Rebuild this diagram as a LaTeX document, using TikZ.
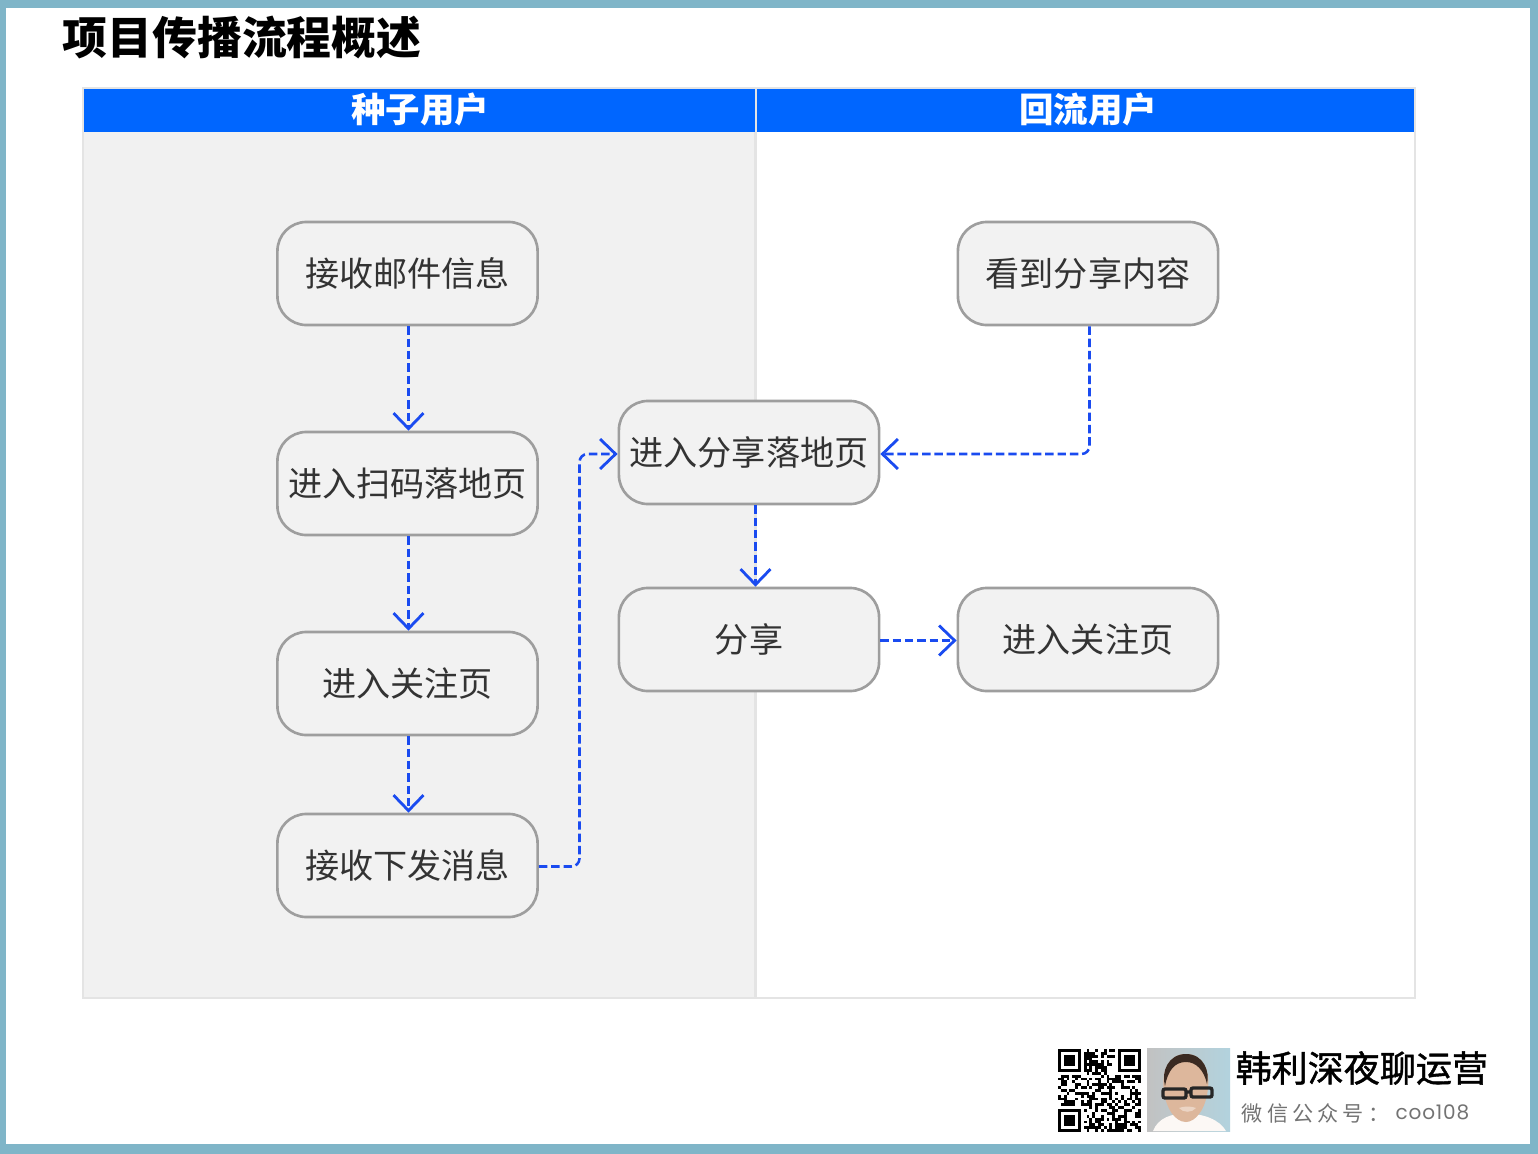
\documentclass[tikz,border=0pt]{standalone}
\usepackage{fontspec}
\setmainfont{Noto Sans CJK SC}
\newfontfamily\subfont[LetterSpace=20]{Noto Sans CJK SC}
\newfontfamily\brandfont[FakeBold=1.2]{Noto Sans CJK SC}
\newfontfamily\latinfont[LetterSpace=4]{Poppins}
\usepackage{tikz}
\usetikzlibrary{arrows.meta}
\definecolor{frameblue}{HTML}{7FB5C8}
\definecolor{headblue}{HTML}{0066FF}
\definecolor{flowblue}{HTML}{1A4BF0}
\definecolor{panelgrey}{HTML}{F1F1F1}
\definecolor{panelline}{HTML}{E4E4E4}
\definecolor{skin}{HTML}{DDB79C}
\definecolor{hair}{HTML}{3A2A22}
\tikzset{
	stepbox/.style={draw=black!38, line width=.75pt, fill=black!5, rounded corners=.29cm, minimum width=2.6cm, minimum height=1.03cm, inner sep=0pt, text=black!80, font=\fontsize{9.7}{10}\selectfont},
	headbox/.style={text=white, font=\fontsize{9.8}{10}\selectfont\bfseries, inner sep=0pt},
	flow/.style={draw=flowblue, line width=.72pt, dash pattern=on 2.4pt off 1.1pt, rounded corners=.08cm, -{Straight Barb[length=4.4pt,width=8.5pt,line width=.8pt]}}
}
\begin{document}
\begin{tikzpicture}[x=.01cm, y=-.01cm]
	\useasboundingbox (0,0) rectangle (1538,1154);
	\draw[draw=none, fill=frameblue] (0,0) rectangle (1538,1154);
	\draw[draw=none, fill=white] (6,8) rectangle (1530,1144);
	% panels
	\draw[draw=none, fill=panelgrey] (83,88) rectangle (755,998);
	\draw[draw=panelline, line width=.6pt] (83,88) rectangle (1415,998);
	\draw[draw=panelline, line width=.6pt] (755.5,88) -- (755.5,998);
	\draw[draw=none, fill=headblue] (84,89) rectangle (754.5,132);
	\draw[draw=none, fill=headblue] (757,89) rectangle (1414,132);
	\node[inner sep=0pt, anchor=west, font=\fontsize{12.75}{13}\selectfont\bfseries] (title) at (62,38) {项目传播流程概述};
	\node[headbox] (seedhead) at (420,109) {种子用户};
	\node[headbox] (backhead) at (1088,109) {回流用户};
	% steps
	\node[stepbox] (mail) at (407.5,273.5) {接收邮件信息};
	\node[stepbox] (scan) at (407.5,483.5) {进入扫码落地页};
	\node[stepbox] (followa) at (407.5,683.5) {进入关注页};
	\node[stepbox] (push) at (407.5,865.5) {接收下发消息};
	\node[stepbox] (landing) at (749,452.5) {进入分享落地页};
	\node[stepbox] (share) at (749,639.5) {分享};
	\node[stepbox] (seen) at (1088,273.5) {看到分享内容};
	\node[stepbox] (followb) at (1088,639.5) {进入关注页};
	\coordinate (bend) at (579.5,0);
	\draw[flow] ([xshift=.01cm]mail.south) -- ([xshift=.01cm]scan.north);
	\draw[flow] ([xshift=.01cm]scan.south) -- ([xshift=.01cm]followa.north);
	\draw[flow] ([xshift=.01cm]followa.south) -- ([xshift=.01cm]push.north);
	\draw[flow] ([yshift=-.01cm]push.east) -- ([yshift=-.01cm]push.east -| bend) -- ([yshift=-.015cm]landing.west -| bend) -- ([yshift=-.015cm]landing.west);
	\draw[flow] ([xshift=.015cm]seen.south) -- ([xshift=.015cm,yshift=-.015cm]seen.south |- landing.east) -- ([yshift=-.015cm]landing.east);
	\draw[flow] ([xshift=.065cm]landing.south) -- ([xshift=.065cm]share.north);
	\draw[flow] ([yshift=-.01cm]share.east) -- ([yshift=-.01cm]followb.west);
	% qr code
	\pgfmathsetseed{108}
	\foreach \i in {0,...,28} {
		\foreach \j in {0,...,28} {
			\pgfmathsetmacro{\cell}{rnd}
			\ifdim\cell pt>.48pt
				\fill[black] (1058+\i*2.86,1049+\j*2.86) rectangle ++(2.86,2.86);
			\fi
		}
	}
	\foreach \x/\y in {1058/1049, 1118/1049, 1058/1109} {
		\fill[white] (\x-3,\y-3) rectangle ++(29,29);
		\fill[black] (\x,\y) rectangle ++(23,23);
		\fill[white] (\x+3,\y+3) rectangle ++(17,17);
		\fill[black] (\x+6,\y+6) rectangle ++(11,11);
	}
	% photo
	\shade[left color=black!24, right color=frameblue!60] (1147,1048) rectangle (1230,1131);
	\fill[white!90!skin] (1153,1131) .. controls (1158,1118) and (1172,1113) .. (1186,1114) .. controls (1203,1113) and (1220,1120) .. (1226,1131) -- cycle;
	\fill[skin] (1186,1054) .. controls (1204,1054) and (1210,1072) .. (1208,1088) .. controls (1206,1110) and (1195,1122) .. (1186,1122) .. controls (1175,1122) and (1166,1108) .. (1164,1092) .. controls (1161,1072) and (1168,1054) .. (1186,1054);
	\fill[hair] (1186,1054) .. controls (1204,1054) and (1210,1072) .. (1207,1084) .. controls (1204,1070) and (1196,1062) .. (1186,1062) .. controls (1175,1062) and (1168,1070) .. (1165,1086) .. controls (1161,1072) and (1168,1054) .. (1186,1054);
	\draw[black!85, line width=.95pt, rounded corners=.02cm] (1163,1089) rectangle (1186,1098) (1191,1088) rectangle (1212,1097) (1186,1092) -- (1191,1092);
	\fill[white!40!skin] (1179,1108) .. controls (1184,1106) and (1191,1106) .. (1196,1108) .. controls (1192,1113) and (1183,1113) .. (1179,1108);
	% footer
	\node[inner sep=0pt, anchor=west, font=\fontsize{10.25}{11}\brandfont] (brand) at (1235,1068) {韩利深夜聊运营};
	\node[inner sep=0pt, anchor=west, text=black!55, font=\fontsize{6}{7}\subfont] (account) at (1241,1113) {微信公众号：};
	\node[inner sep=0pt, anchor=west, text=black!55, font=\fontsize{5.7}{7}\latinfont] (handle) at (1395,1112) {coo108};
\end{tikzpicture}
\end{document}
